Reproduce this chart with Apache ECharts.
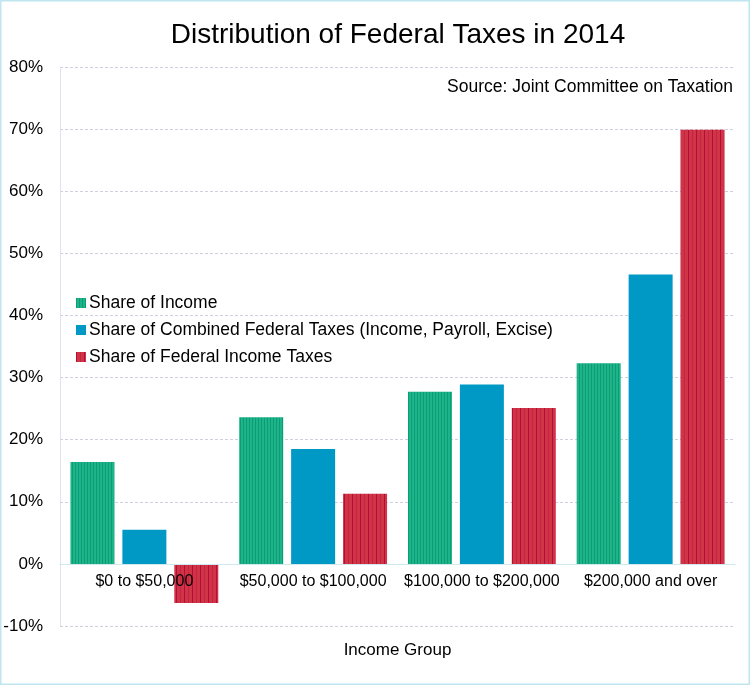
<!DOCTYPE html>
<html>
<head>
<meta charset="utf-8">
<script src="https://cdn.jsdelivr.net/npm/echarts@6/dist/echarts.min.js"></script>
<style>
html,body{margin:0;padding:0;background:#fff;}
#c{width:750px;height:685px;}
</style>
</head>
<body>
<div id="c"></div>
<script>
const categories = ["$0 to $50,000", "$50,000 to $100,000", "$100,000 to $200,000", "$200,000 and over"];
const shareIncome = [16.4, 23.6, 27.7, 32.3];
const shareCombined = [5.5, 18.5, 28.9, 46.6];
const shareIncomeTax = [-6.3, 11.3, 25.1, 69.9];
const seriesNames = ["Share of Income", "Share of Combined Federal Taxes (Income, Payroll, Excise)", "Share of Federal Income Taxes"];

function stripe(base, lines, w) {
  const cv = document.createElement('canvas');
  cv.width = w; cv.height = 4;
  const ctx = cv.getContext('2d');
  ctx.fillStyle = base; ctx.fillRect(0, 0, w, 4);
  lines.forEach(function (l) { ctx.fillStyle = l[1]; ctx.fillRect(l[0], 0, 1, 4); });
  return { image: cv, repeat: 'repeat' };
}
const greenPat = stripe('#1cb488', [[0, '#0e9c76']], 3);
const redPat = stripe('#cf3447', [[0, '#b80b38'], [4, '#c52340']], 8);

const chart = echarts.init(document.getElementById('c'));
const font = 'Liberation Sans, Arial, sans-serif';
chart.setOption({
  animation: false,
  textStyle: { fontFamily: font },
  title: {
    text: 'Distribution of Federal Taxes in 2014',
    left: 393, textAlign: 'center', top: 16,
    textStyle: { fontSize: 28, fontWeight: 'normal', color: '#000', fontFamily: font }
  },
  graphic: [
    { type: 'rect', shape: { x: 0.5, y: 0.5, width: 749, height: 684 }, style: { fill: 'none', stroke: '#bfe6ee', lineWidth: 2 }, silent: true },
    { type: 'text', right: 17, top: 78, style: { text: 'Source: Joint Committee on Taxation', fontSize: 17.5, fill: '#000', fontFamily: font } }
  ],
  legend: {
    orient: 'vertical', left: 76, top: 294, itemGap: 9, padding: 0,
    itemWidth: 10, itemHeight: 10, icon: 'rect',
    textStyle: { fontSize: 17.5, color: '#000', fontFamily: font, padding: [0, 0, 0, -2] },
    data: seriesNames
  },
  grid: { left: 60, right: 15, top: 67, bottom: 59, outerBoundsMode: 'none', containLabel: false },
  xAxis: {
    type: 'category', data: categories, z: 10,
    axisLine: { onZero: true, lineStyle: { color: '#cfe9ee', width: 1 } },
    axisTick: { show: false },
    axisLabel: { fontSize: 16, color: '#000', margin: -52, interval: 0, fontFamily: font },
    name: 'Income Group', nameLocation: 'middle', nameGap: 16,
    nameTextStyle: { fontSize: 17, color: '#000', fontFamily: font }
  },
  yAxis: {
    type: 'value', min: -10, max: 80, interval: 10,
    axisLine: { show: true, lineStyle: { color: '#dcdce8', type: 'dotted' } },
    axisTick: { show: false },
    axisLabel: { formatter: '{value}%', fontSize: 17, color: '#000', margin: 17, fontFamily: font },
    splitLine: { lineStyle: { color: '#cfcfe0', type: [3, 2] } }
  },
  series: [
    { name: seriesNames[0], type: 'bar', data: shareIncome, barWidth: 44, barGap: '18%', itemStyle: { color: greenPat } },
    { name: seriesNames[1], type: 'bar', data: shareCombined, barWidth: 44, barGap: '18%', itemStyle: { color: '#0098c5' } },
    { name: seriesNames[2], type: 'bar', data: shareIncomeTax, barWidth: 44, barGap: '18%', itemStyle: { color: redPat } }
  ]
});
</script>
</body>
</html>
